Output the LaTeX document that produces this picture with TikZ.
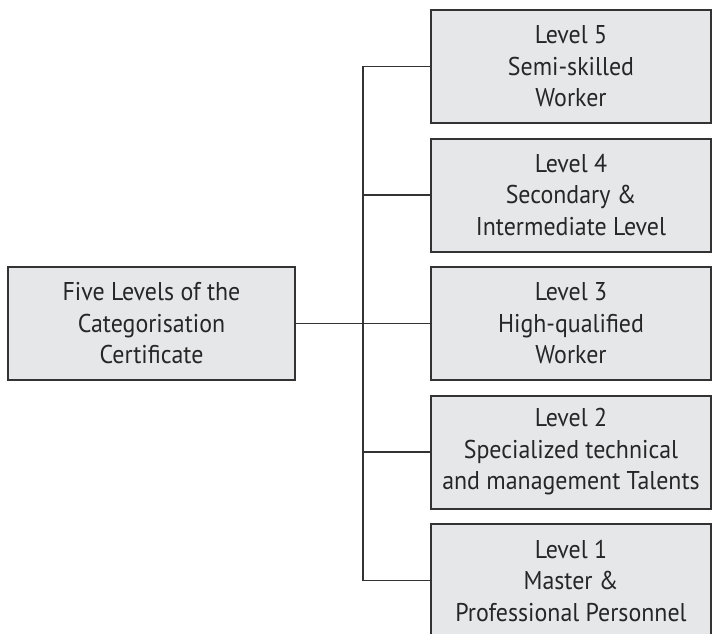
\documentclass[tikz,border=0pt]{standalone}
\usepackage{fontspec}
\setmainfont{PT Sans}[FakeStretch=0.93]
\definecolor{boxfill}{HTML}{E6E7E9}
\definecolor{boxline}{HTML}{333333}

\begin{document}
\begin{tikzpicture}[x=1pt, y=-1pt,
		levelbox/.style={draw=boxline, line width=2pt, fill=boxfill, minimum width=280pt, minimum height=113pt, inner sep=0pt, align=center, text=black!85, font=\fontsize{25.7}{31.5}\selectfont},
		link/.style={draw=boxline, line width=1.6pt}]
		\clip (0, 0) rectangle (712, 634);
		\node [levelbox, minimum width=287pt] (cert) at (151.5, 323.5) {Five Levels of the\\Categorisation\\Certificate};
		\node [levelbox] (lvl5) at (571, 66.5) {Level 5\\Semi-skilled\\Worker};
		\node [levelbox] (lvl4) at (571, 195) {Level 4\\Secondary \&\\Intermediate Level};
		\node [levelbox] (lvl3) at (571, 323.5) {Level 3\\High-qualified\\Worker};
		\node [levelbox] (lvl2) at (571, 452) {Level 2\\Specialized technical\\and management Talents};
		\node [levelbox] (lvl1) at (571, 580.5) {Level 1\\Master \&\\Professional Personnel};
		\coordinate (bus) at (363, 0);
		\draw [link] (lvl5.west) -- (lvl5.west -| bus) -- (lvl1.west -| bus) -- (lvl1.west);
		\draw [link] (lvl4.west -| bus) -- (lvl4.west);
		\draw [link] (lvl2.west -| bus) -- (lvl2.west);
		\draw [link] (cert.east) -- (lvl3.west);
	\end{tikzpicture}
\end{document}
